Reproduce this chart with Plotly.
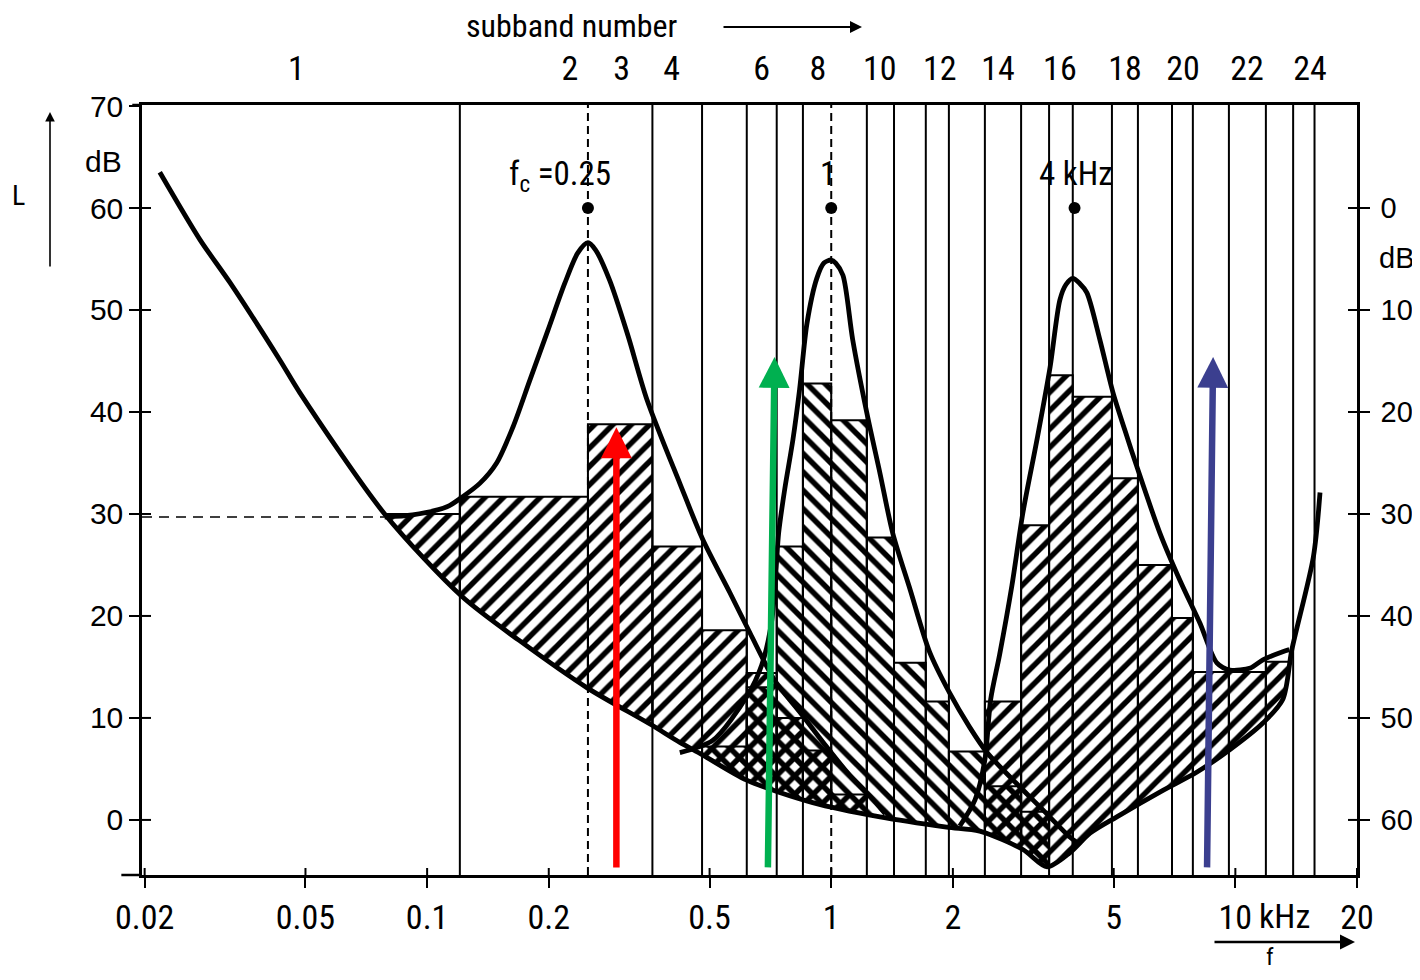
import numpy as np
import plotly.graph_objects as go

# ---------------- data (kHz, dB) ----------------
# threshold in quiet
thr_f = [0.0218, 0.0274, 0.0325, 0.0432, 0.0484, 0.0785, 0.122, 0.169, 0.25,
         0.356, 0.422, 0.479, 0.618, 0.90, 1.32, 1.93, 2.33, 2.98, 3.42, 3.90, 4.37, 5.09,
         6.62, 8.04, 9.70, 11.7, 13.1, 13.8, 15.6, 16.2]
thr_db = [63.5, 56.9, 52.7, 45.1, 41.9, 30.0, 21.9, 17.6, 12.9,
          9.4, 7.6, 6.4, 3.9, 1.7, 0.3, -0.7, -1.1, -2.9, -4.6, -3.2, -1.3, 0.3,
          2.9, 4.7, 6.9, 9.5, 11.8, 16.7, 25.8, 32.1]

# masking threshold of the 0.25 kHz masker
mA_f = [0.0785, 0.0920, 0.112, 0.1225, 0.135, 0.1486, 0.163, 0.1795, 0.199, 0.219, 0.236, 0.25,
        0.261, 0.283, 0.314, 0.350, 0.422, 0.481, 0.561, 0.630, 0.724, 0.835, 0.964, 1.11, 1.27, 1.36]
mA_db = [29.7, 29.9, 30.7, 31.7, 33.0, 35.0, 38.5, 43.1, 48.0, 52.6, 55.6, 56.6,
         55.9, 52.9, 47.5, 41.2, 33.0, 27.5, 22.3, 18.3, 13.7, 10.6, 7.4, 4.4, 2.0, 0.6]

# masking threshold of the 1 kHz masker
mB_f = [0.422, 0.509, 0.618, 0.673, 0.713, 0.730, 0.741, 0.767, 0.804, 0.835, 0.871, 0.921, 0.959, 1.0,
        1.026, 1.069, 1.13, 1.225, 1.32, 1.42, 1.57, 1.75, 1.96, 2.20, 2.43, 2.82, 3.28, 3.90, 4.12]
mB_db = [6.6, 7.8, 12.1, 15.2, 19.6, 24.5, 28.1, 32.4, 37.3, 42.2, 48.7, 53.1, 54.6, 54.9,
         54.6, 53.4, 47.1, 39.9, 34.0, 28.1, 22.5, 16.5, 12.5, 9.1, 6.6, 3.9, 1.3, -1.7, -2.4]

# masking threshold of the 4 kHz masker
mC_f = [2.08, 2.27, 2.40, 2.48, 2.61, 2.80, 2.98, 3.23, 3.48, 3.68, 3.81, 3.96, 4.12, 4.29, 4.62,
        4.98, 5.33, 5.71, 6.51, 7.29, 8.17, 9.00, 9.70, 10.9, 11.7, 13.1, 13.6]
mC_db = [-0.6, 2.0, 5.9, 11.8, 16.2, 23.0, 30.1, 37.3, 44.4, 51.0, 52.5, 53.1, 52.6, 51.7, 47.1,
         41.9, 38.2, 34.6, 28.1, 23.5, 19.3, 15.4, 14.7, 14.9, 15.7, 16.5, 16.7]

# stepped (per subband) masking levels
barA_edges = [0.0197, 0.1205, 0.25, 0.361, 0.479, 0.618, 0.733, 0.851, 1.0, 1.225]
barA_levels = [30.0, 31.7, 38.8, 26.8, 18.6, 14.4, 10.0, 6.8, 2.5]
barB_edges = [0.479, 0.618, 0.733, 0.851, 1.0, 1.225, 1.43, 1.714, 1.955, 2.40, 2.95, 3.46]
barB_levels = [7.2, 13.0, 26.8, 42.8, 39.2, 27.7, 15.4, 11.6, 6.7, 3.3, 0.8]
barC_edges = [2.40, 2.95, 3.46, 3.96, 4.95, 5.74, 6.97, 7.85, 9.64, 11.9, 13.9]
barC_levels = [11.6, 28.9, 43.6, 41.5, 33.5, 25.0, 19.8, 14.5, 14.5, 15.5]

# subband edges drawn as vertical lines, masker frequencies
band_edges = [0.1205, 0.25, 0.361, 0.479, 0.618, 0.733, 0.851, 1.0, 1.225, 1.43, 1.714, 1.955,
              2.40, 2.95, 3.46, 3.96, 4.95, 5.74, 6.97, 7.85, 9.64, 11.9, 13.9, 15.7]
masker_f = [0.25, 1.0, 4.0]
masker_level = [60, 60, 60]

# top axis: subband numbers
sub_f = [0.0475, 0.2255, 0.303, 0.403, 0.673, 0.927, 1.319, 1.857, 2.585, 3.68, 5.33, 7.42, 10.69, 15.3]
sub_lbl = ["1", "2", "3", "4", "6", "8", "10", "12", "14", "16", "18", "20", "22", "24"]

# bottom axis
f_ticks = [0.02, 0.05, 0.1, 0.2, 0.5, 1, 2, 5, 10, 20]
f_lbls = ["0.02", "0.05", "0.1", "0.2", "0.5", "1", "2", "5", "10", "20"]
L_ticks = [0, 10, 20, 30, 40, 50, 60, 70]
R_ticks = [0, 10, 20, 30, 40, 50, 60]

# coloured arrows
arr_tail_f = [0.294, 0.697, 8.51]
arr_head_f = [0.294, 0.724, 8.81]
arr_tail_db = [-4.8, -4.8, -4.8]
arr_head_db = [38.5, 45.4, 45.4]
arr_col = ["#ff0000", "#00b050", "#3b3f8f"]

X_MIN, X_MAX = 0.0197, 20.0
Y_MIN, Y_MAX = -5.4, 70.1
BOT = -6.5

NARROW = "Liberation Sans Narrow, Arial Narrow, Roboto Condensed, sans-serif"
SANS = "Liberation Sans, Arial, sans-serif"

# the page body has an 8px default margin: compensate so the plot area lands at 142..1357 x 105..875
OFF = 8
FIG_W, FIG_H = 1420 - OFF, 980 - 2 * OFF - 2
fig = go.Figure()


def bars(edges, levels, shape):
    xs, ys = [], []
    for i, L in enumerate(levels):
        f0, f1 = edges[i], edges[i + 1]
        xs += [f0, f0, f1, f1, f0, None]
        ys += [BOT, L, L, BOT, BOT, None]
    fig.add_trace(go.Scatter(
        x=xs, y=ys, mode="lines", fill="toself", fillcolor="rgba(0,0,0,0)",
        fillpattern=dict(shape=shape, size=13, solidity=0.42, fgcolor="black", fgopacity=1,
                         bgcolor="rgba(0,0,0,0)"),
        line=dict(color="black", width=2), hoverinfo="skip", showlegend=False))


bars(barA_edges, barA_levels, "/")
bars(barB_edges, barB_levels, "\\")
bars(barC_edges, barC_levels, "/")

# white area below the threshold in quiet
mask_x = [X_MIN, X_MIN] + thr_f + [thr_f[-1] * 1.02, thr_f[-1] * 1.02]
mask_y = [BOT, 66.5] + thr_db + [thr_db[-1], BOT]
fig.add_trace(go.Scatter(x=mask_x, y=mask_y, mode="lines", fill="toself", fillcolor="white",
                         line=dict(width=0, color="white", shape="spline", smoothing=0.8),
                         hoverinfo="skip", showlegend=False))

# 30 dB dashed line
fig.add_trace(go.Scatter(x=[X_MIN, mA_f[0]], y=[mA_db[0], mA_db[0]], mode="lines",
                         line=dict(color="black", width=1.6, dash="10px,7px"),
                         hoverinfo="skip", showlegend=False))

# curves
for fx, fy in [(thr_f, thr_db), (mA_f, mA_db), (mB_f, mB_db), (mC_f, mC_db)]:
    fig.add_trace(go.Scatter(x=fx, y=fy, mode="lines",
                             line=dict(color="black", width=4.8, shape="spline", smoothing=0.8),
                             hoverinfo="skip", showlegend=False))

# masker dots
fig.add_trace(go.Scatter(x=masker_f, y=masker_level, mode="markers",
                         marker=dict(color="black", size=12), hoverinfo="skip", showlegend=False))

# invisible traces to activate the secondary axes
fig.add_trace(go.Scatter(x=[1], y=[0], xaxis="x2", mode="markers", marker=dict(opacity=0),
                         hoverinfo="skip", showlegend=False))
fig.add_trace(go.Scatter(x=[1], y=[0], yaxis="y2", mode="markers", marker=dict(opacity=0),
                         hoverinfo="skip", showlegend=False))

shapes = []
for e in band_edges:
    dashed = any(abs(e - m) < 1e-6 for m in masker_f)
    shapes.append(dict(type="line", xref="x", yref="paper", x0=e, x1=e, y0=0, y1=1,
                       layer="above",
                       line=dict(color="black", width=2, dash="8px,5px" if dashed else "solid")))
for f in f_ticks:
    shapes.append(dict(type="line", xref="x", yref="paper", x0=f, x1=f, ysizemode="pixel",
                       yanchor=0, y0=0, y1=7, line=dict(color="black", width=2), layer="above"))
for v in L_ticks[:-1]:
    shapes.append(dict(type="line", yref="y", xref="paper", y0=v, y1=v, xsizemode="pixel",
                       xanchor=0, x0=0, x1=9, line=dict(color="black", width=2), layer="above"))
for v in R_ticks:
    shapes.append(dict(type="line", yref="y2", xref="paper", y0=v, y1=v, xsizemode="pixel",
                       xanchor=1, x0=-9, x1=0, line=dict(color="black", width=2), layer="above"))
shapes.append(dict(type="line", xref="paper", yref="paper", x0=-0.017, x1=0, y0=0, y1=0,
                   line=dict(color="black", width=2.5)))
shapes.append(dict(type="line", xref="paper", yref="paper", x0=-0.008, x1=0, y0=1, y1=1,
                   line=dict(color="black", width=2.5)))

annotations = []
for tf, hf, tdb, hdb, c in zip(arr_tail_f, arr_head_f, arr_tail_db, arr_head_db, arr_col):
    annotations.append(dict(x=np.log10(hf), y=hdb, xref="x", yref="y",
                            ax=np.log10(tf), ay=tdb, axref="x", ayref="y",
                            showarrow=True, arrowhead=2, arrowsize=0.95, arrowwidth=6.5,
                            arrowcolor=c, text=""))


def px_x(p):
    return (p - 142) / 1215


def px_y(p):
    return (875 - p) / 770


def txt(x, y, s, size=30, font=NARROW):
    annotations.append(dict(x=px_x(x), y=px_y(y), xref="paper", yref="paper", text=s,
                            showarrow=False, xanchor="center", yanchor="middle",
                            font=dict(family=font, size=size, color="black")))


def arrow(hx, hy, ax, ay, w):
    annotations.append(dict(x=px_x(hx), y=px_y(hy), xref="paper", yref="paper", ax=ax, ay=ay,
                            showarrow=True, arrowhead=2, arrowsize=1.2, arrowwidth=w,
                            arrowcolor="black", text=""))


txt(572, 26, "subband number", size=32)
arrow(862, 27, -140, 0, 2)
txt(560, 176, "f<sub>c</sub> =0.25", size=33)
txt(828, 173, "1", size=33)
txt(1076, 173, "4 kHz", size=33)
txt(18, 195, "L", size=28)
arrow(50, 112, 0, 156, 1.6)
txt(103, 162, "dB", size=30, font=SANS)
txt(1396, 258, "dB", size=29, font=SANS)
txt(1284, 916, "kHz", size=34)
arrow(1355, 942, -142, 0, 2.5)
txt(1270, 957, "f", size=24)

xr = [np.log10(X_MIN), np.log10(X_MAX)]
fig.update_layout(
    width=FIG_W, height=FIG_H,
    margin=dict(l=142 - OFF, r=FIG_W - (1357 - OFF), t=105 - OFF, b=FIG_H - (875 - OFF),
                autoexpand=False),
    plot_bgcolor="white", paper_bgcolor="white",
    showlegend=False,
    shapes=shapes, annotations=annotations,
    xaxis=dict(type="log", range=xr, tickvals=f_ticks, ticktext=f_lbls, ticks="outside",
               ticklen=10, tickwidth=2, tickcolor="black", showgrid=False, zeroline=False,
               showline=True, linecolor="black", linewidth=2.5, mirror=True,
               ticklabelstandoff=0,
               tickfont=dict(family=NARROW, size=34, color="black")),
    xaxis2=dict(type="log", range=xr, overlaying="x", side="top", anchor="y",
                tickvals=sub_f, ticktext=sub_lbl, ticks="", showgrid=False, zeroline=False,
                showline=False, ticklabelstandoff=17,
                tickfont=dict(family=NARROW, size=34, color="black")),
    yaxis=dict(range=[Y_MIN, Y_MAX], tickvals=L_ticks, ticks="outside", ticklen=10, tickwidth=2,
               tickcolor="black", showgrid=False, zeroline=False, showline=True,
               linecolor="black", linewidth=2.5, ticklabelstandoff=0,
               tickfont=dict(family=SANS, size=30, color="black")),
    yaxis2=dict(range=[60 - Y_MIN, 60 - Y_MAX], overlaying="y", side="right", anchor="x",
                tickvals=R_ticks, ticks="outside", ticklen=10, tickwidth=2, tickcolor="black",
                showgrid=False, zeroline=False, showline=True, linecolor="black", linewidth=2.5,
                ticklabelstandoff=5,
                tickfont=dict(family=SANS, size=29, color="black")),
)

fig.write_html("out.html")
